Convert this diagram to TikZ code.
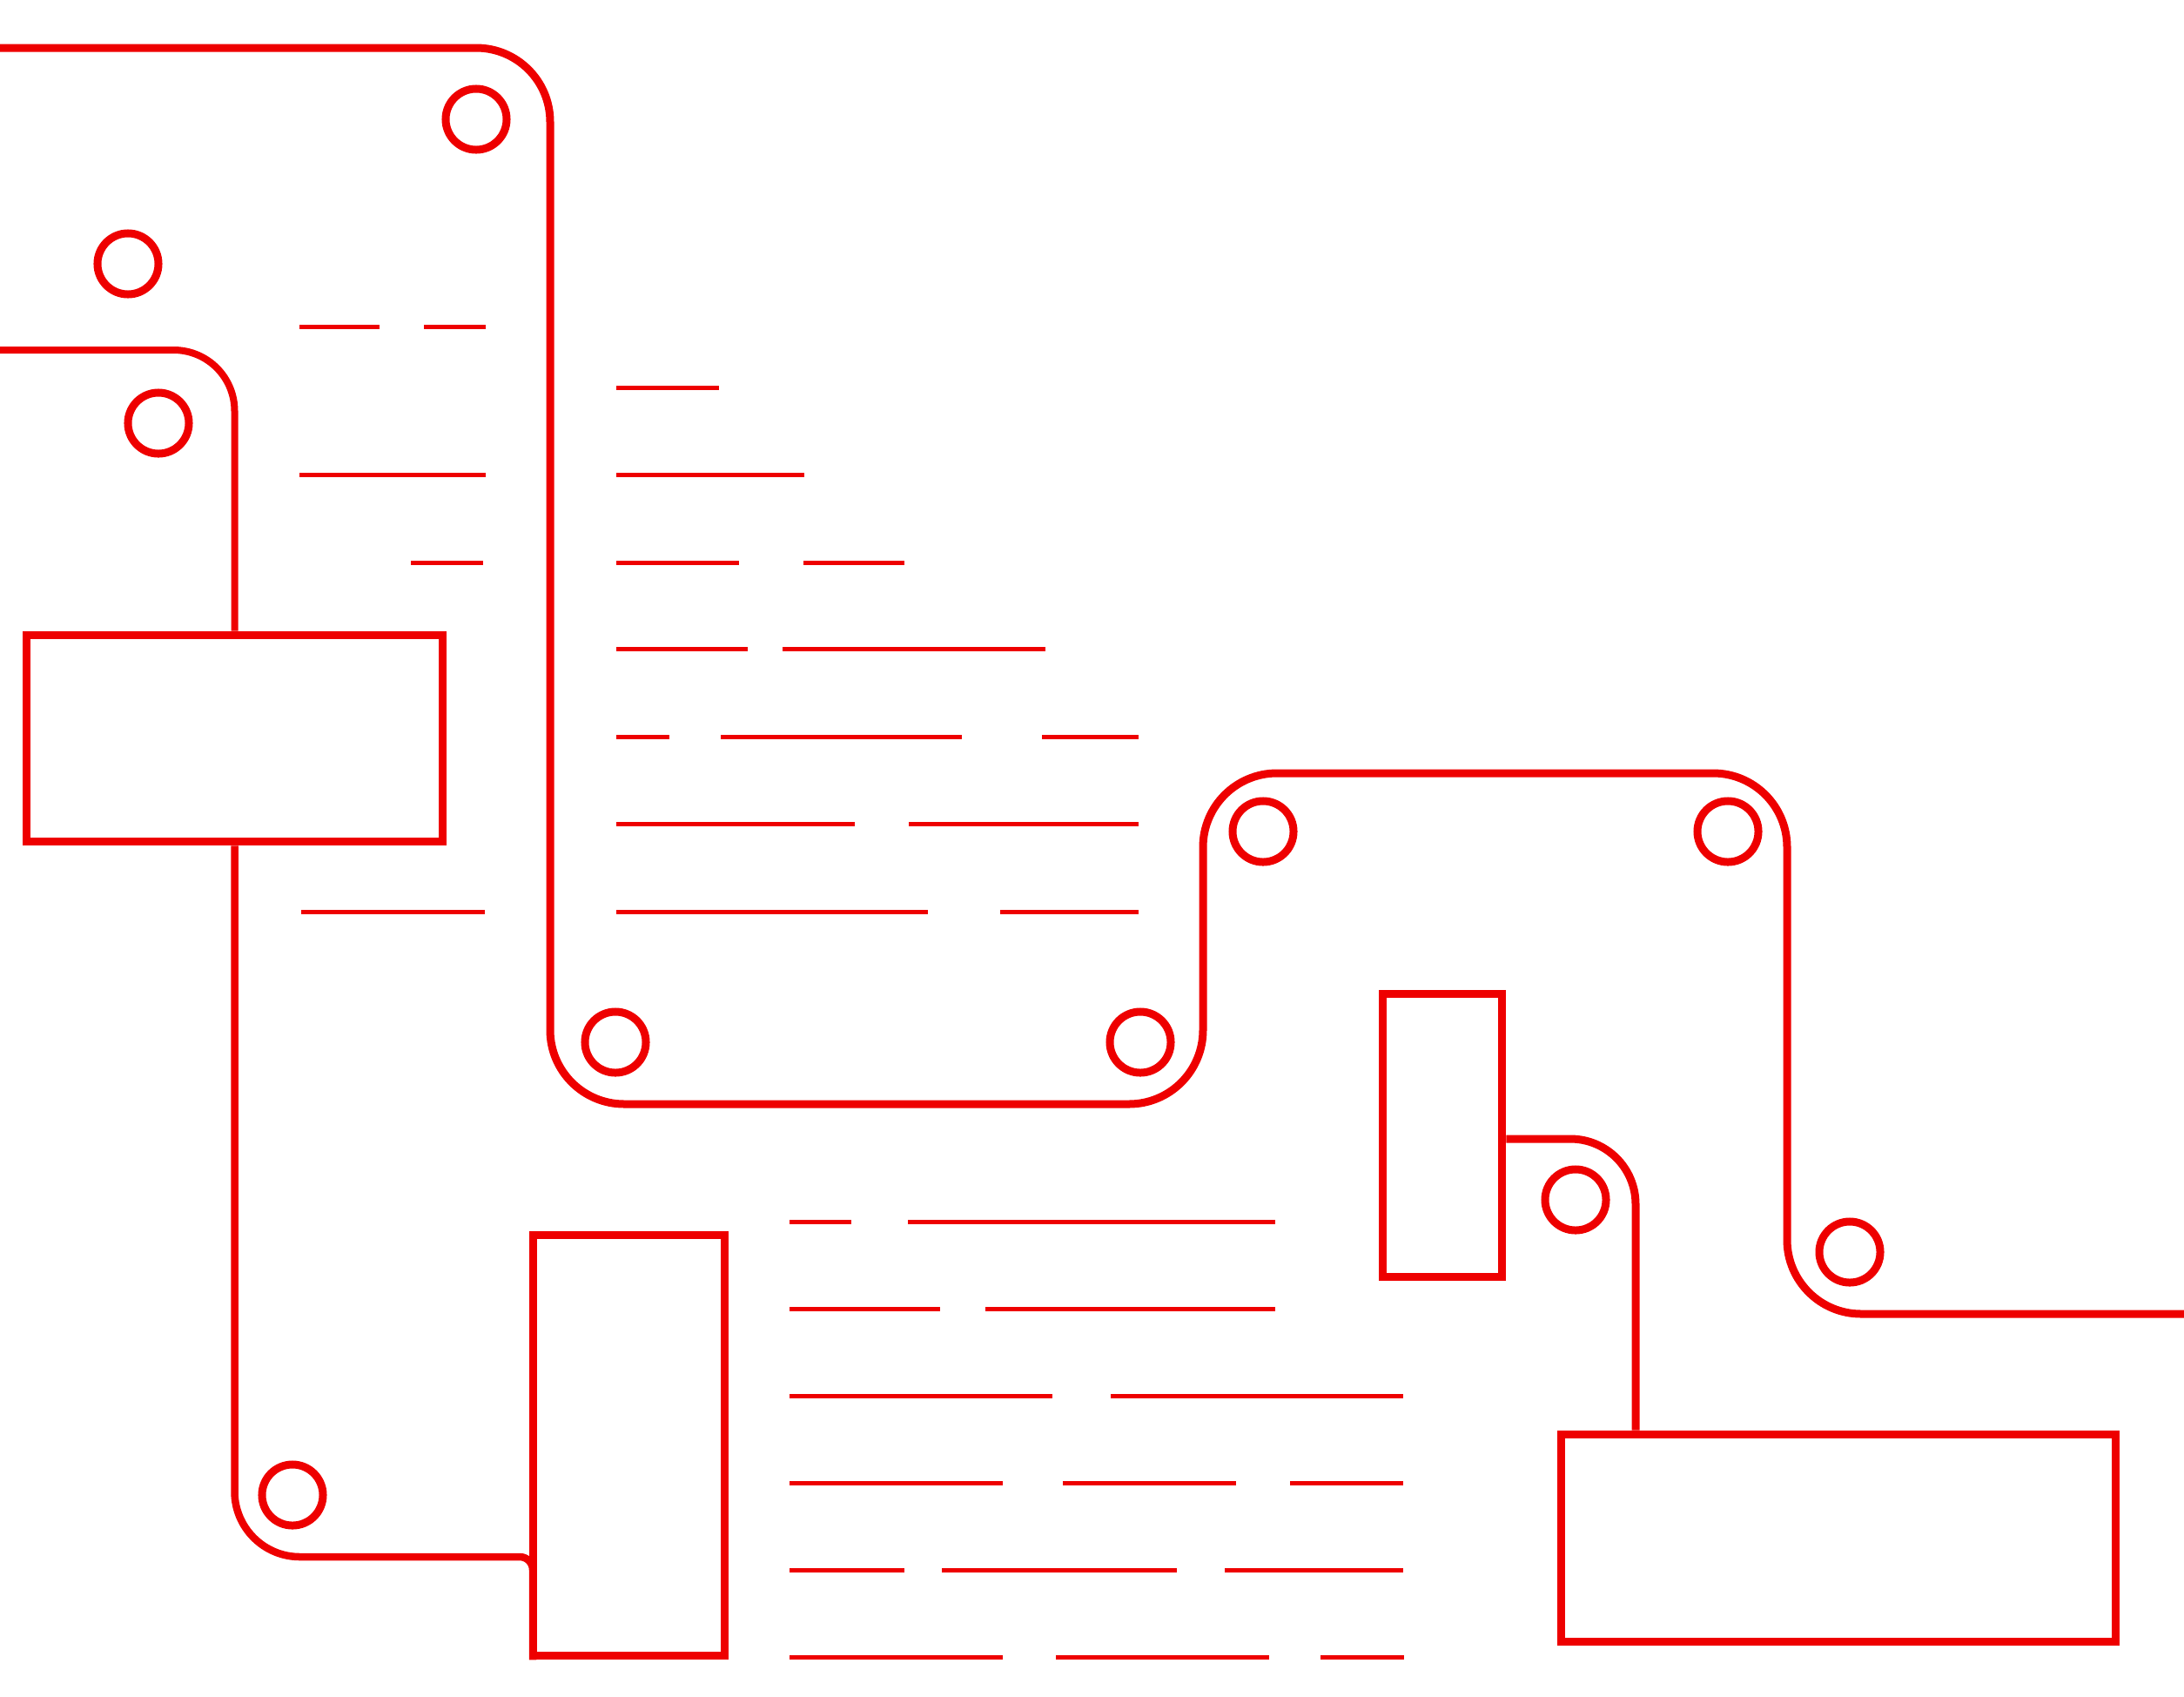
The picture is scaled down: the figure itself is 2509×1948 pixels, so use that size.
\documentclass[tikz,border=0pt]{standalone}
\definecolor{rd}{RGB}{238,0,0}
\begin{document}
\begin{tikzpicture}[x=0.01cm,y=-0.01cm,
  wire/.style={draw=rd, line width=0.09cm, line join=round},
  ring/.style={circle, draw=rd, line width=0.09cm, minimum size=0.7cm, inner sep=0pt},
  box/.style={rectangle, draw=rd, line width=0.095cm, inner sep=0pt},
  textline/.style={draw=rd, line width=0.05cm}]
\useasboundingbox (0,0) rectangle (2509,1948);

% boxes
\node[box, minimum width=4.78cm, minimum height=2.37cm] (r1) at (269.5,848) {};
\node[box, minimum width=2.20cm, minimum height=4.83cm] (r2) at (722.5,1660) {};
\node[box, minimum width=1.37cm, minimum height=3.25cm] (r3) at (1657,1304) {};
\node[box, minimum width=6.365cm, minimum height=2.38cm] (r4) at (2112,1766.5) {};

% circles
\node[ring] (c1) at (547,137) {};
\node[ring] (c2) at (147,303) {};
\node[ring] (c3) at (182,486) {};
\node[ring] (c4) at (707,1197) {};
\node[ring] (c5) at (1310,1197) {};
\node[ring] (c6) at (1451,955) {};
\node[ring] (c7) at (1985,955) {};
\node[ring] (c8) at (1810,1378) {};
\node[ring] (c9) at (2125,1438) {};
\node[ring] (c10) at (336,1717) {};

% free ends and bends
\coordinate (a0) at (0,55);
\coordinate (a7) at (2509,1509);
\coordinate (b0) at (0,402);
\coordinate (bx) at (269.5,0);
\coordinate (cx) at (1879,0);
\coordinate (dx) at (612,0);

% main snake path
\draw[wire] (a0) -- (547,55) .. controls (594,55) and (632,93) .. (632,140)
  -- (632,1183) .. controls (632,1230) and (670,1268) .. (717,1268)
  -- (1297,1268) .. controls (1344,1268) and (1382,1230) .. (1382,1183)
  -- (1382,973) .. controls (1382,926) and (1420,888) .. (1467,888)
  -- (1968,888) .. controls (2015,888) and (2053,926) .. (2053,973)
  -- (2053,1424) .. controls (2053,1471) and (2091,1509) .. (2138,1509)
  -- (a7);

% left path into the big box
\draw[wire, line width=0.08cm] (b0) -- (199.5,402)
  .. controls (238.2,402) and (269.5,433.3) .. (269.5,472) -- (r1.north);
% from big box down to the tall box
\draw[wire, line width=0.085cm] (r1.south) -- (269.5,1713)
  .. controls (269.5,1754.4) and (303.1,1788) .. (344.5,1788)
  -- (597,1788) .. controls (605.3,1788) and (612,1794.7) .. (612,1803)
  -- (r2.south west -| dx);

% connector between the two right boxes
\draw[wire] (r3.east |- 0,1308) -- (1804,1308)
  .. controls (1845.4,1308) and (1879,1341.6) .. (1879,1383) -- (r4.north -| cx);

% placeholder text lines
\foreach \yy/\xa/\xb in {
  375/344/436, 375/487/558,
  445/708/826,
  545/344/558, 545/708/924,
  646/472/555, 646/708/849, 646/923/1039,
  745/708/859, 745/899/1201,
  846/708/769, 846/828/1105, 846/1197/1308,
  946/708/982, 946/1044/1308,
  1047/346/557, 1047/708/1066, 1047/1149/1308,
  1403/907/978, 1403/1043/1465,
  1503/907/1080, 1503/1132/1465,
  1603/907/1209, 1603/1276/1612,
  1703/907/1152, 1703/1221/1420, 1703/1482/1612,
  1803/907/1039, 1803/1082/1352, 1803/1407/1612,
  1903/907/1152, 1903/1213/1458, 1903/1517/1613}
  \draw[textline] (\xa,\yy) -- (\xb,\yy);
\end{tikzpicture}
\end{document}
